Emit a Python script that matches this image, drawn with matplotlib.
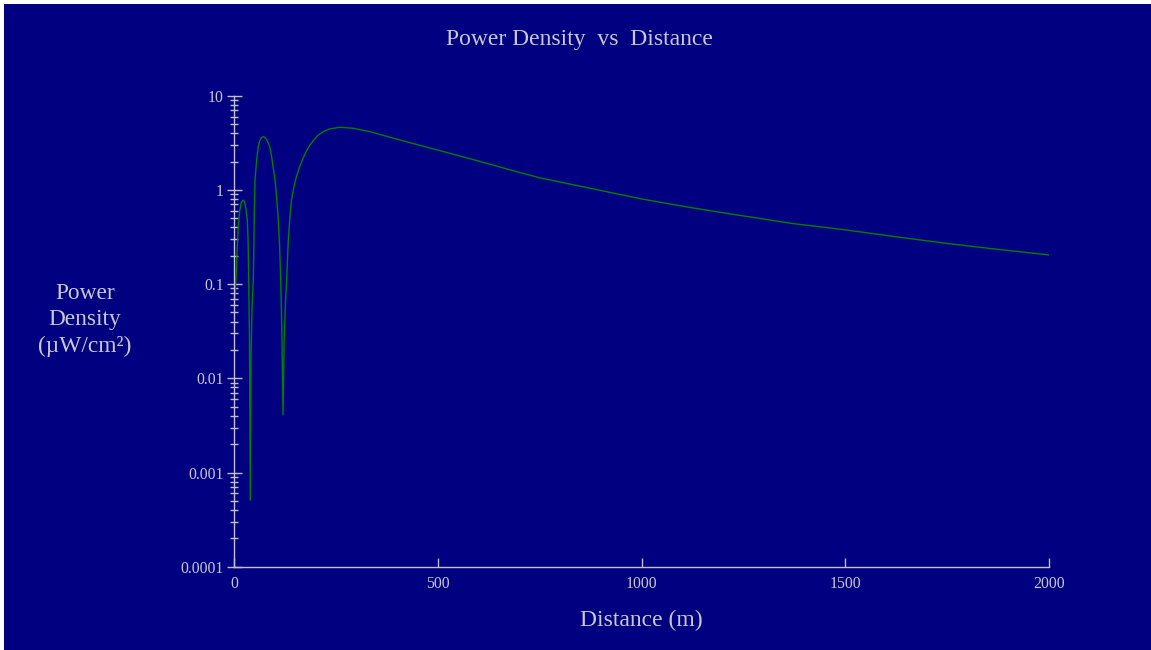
import matplotlib
matplotlib.use("Agg")
import matplotlib.pyplot as plt
from matplotlib.patches import Rectangle
from matplotlib.ticker import LogLocator, FixedLocator, FixedFormatter, NullFormatter

# Data
distance_m = [0, 2.5, 4.9, 7.5, 10.6, 14.0, 18.0, 22.8, 26.0, 29.0, 32.6, 34.5, 36.1,
              38.0, 40.0, 42.0, 44.5, 47.4, 49.5, 51.5, 55.7, 59.6, 64.0, 68.0, 72.0,
              76.0, 80.0, 84.0, 88.3, 92.0, 96.4, 100.6, 104.5, 108.7, 112.0, 114.6,
              117.5, 120.2, 123.0, 126.0, 129.3, 133.0, 137.0, 141.0, 145.5, 150.0,
              154.0, 162.0, 170.0, 178.0, 186.0, 194.6, 206.0, 219.0, 235.0, 260.0,
              292.8, 333.7, 370.0, 407.0, 450.0, 498.0, 599.0, 680.0, 751.0, 870.0,
              1001.0, 1120.0, 1249.0, 1370.0, 1499.0, 1620.0, 1750.0, 1870.0, 2000.0]
power_density = [0.059, 0.08, 0.111, 0.22, 0.41, 0.60, 0.74, 0.78, 0.74, 0.64, 0.48,
                 0.30, 0.111, 0.025, 0.00051, 0.02, 0.06, 0.111, 0.45, 1.28, 2.08, 2.9,
                 3.4, 3.62, 3.67, 3.6, 3.4, 3.15, 2.8, 2.3, 1.7, 1.28, 0.85, 0.48, 0.25,
                 0.111, 0.03, 0.0041, 0.025, 0.06, 0.111, 0.28, 0.5, 0.78, 1.0, 1.22,
                 1.42, 1.8, 2.2, 2.6, 2.98, 3.33, 3.8, 4.15, 4.45, 4.62, 4.51, 4.15, 3.75,
                 3.39, 3.02, 2.66, 2.03, 1.62, 1.34, 1.05, 0.80, 0.65, 0.53, 0.44, 0.377,
                 0.32, 0.27, 0.235, 0.204]

x_ticks = [0, 500, 1000, 1500, 2000]
x_tick_labels = ["0", "500", "1000", "1500", "2000"]
y_ticks = [0.0001, 0.001, 0.01, 0.1, 1, 10]
y_tick_labels = ["0.0001", "0.001", "0.01", "0.1", "1", "10"]

title_text = "Power Density  vs  Distance"
x_label = "Distance (m)"
y_label = "Power\nDensity\n(\u00b5W/cm\u00b2)"

NAVY = "#000080"
TXT = "#c8c8d0"
AX = "#c0c0cc"

plt.rcParams["font.family"] = ["Liberation Serif", "DejaVu Serif"]

W, H = 1151, 650
fig = plt.figure(figsize=(W / 100, H / 100), dpi=100, facecolor="white")
fig.patches.append(Rectangle((4 / W, 0), 1 - 4 / W, 1 - 4 / H, transform=fig.transFigure,
                             facecolor=NAVY, edgecolor="none", zorder=-10))

left, right = 234 / W, 1049 / W
bottom, top = 1 - 566.7 / H, 1 - 95.7 / H
ax = fig.add_axes([left, bottom, right - left, top - bottom])
ax.set_zorder(5)
ax.set_facecolor("none")

ax.plot(distance_m, power_density, color="#008000", lw=1.0)

ax.set_yscale("log")
ax.set_xlim(0, 2000)
ax.set_ylim(0.0001, 10)

for s in ["top", "right"]:
    ax.spines[s].set_visible(False)
for s in ["left", "bottom"]:
    ax.spines[s].set_color(AX)
    ax.spines[s].set_linewidth(1.0)

ax.xaxis.set_major_locator(FixedLocator(x_ticks))
ax.xaxis.set_major_formatter(FixedFormatter(x_tick_labels))
ax.yaxis.set_major_locator(FixedLocator(y_ticks))
ax.yaxis.set_major_formatter(FixedFormatter(y_tick_labels))
ax.yaxis.set_minor_locator(LogLocator(base=10, subs=range(2, 10)))
ax.yaxis.set_minor_formatter(NullFormatter())

ax.tick_params(axis="x", which="major", direction="in", length=6.5, width=1.0,
               color=AX, labelcolor=TXT, labelsize=11.3, pad=7)
ax.tick_params(axis="y", which="major", direction="inout", length=10.8, width=1.0,
               color=AX, labelcolor=TXT, labelsize=11.3, pad=2)
ax.tick_params(axis="y", which="minor", direction="inout", length=5.8, width=1.0,
               color=AX)

fig.text(579 / W, 1 - 39 / H, title_text, color=TXT, fontsize=17,
         ha="center", va="center", zorder=6)
fig.text(641 / W, 1 - 620 / H, x_label, color=TXT, fontsize=17,
         ha="center", va="center", zorder=6)
fig.text(85 / W, 1 - 320 / H, y_label, color=TXT, fontsize=16.8,
         ha="center", va="center", multialignment="center", linespacing=1.36, zorder=6)

fig.savefig("out.png", dpi=100, facecolor="white")
